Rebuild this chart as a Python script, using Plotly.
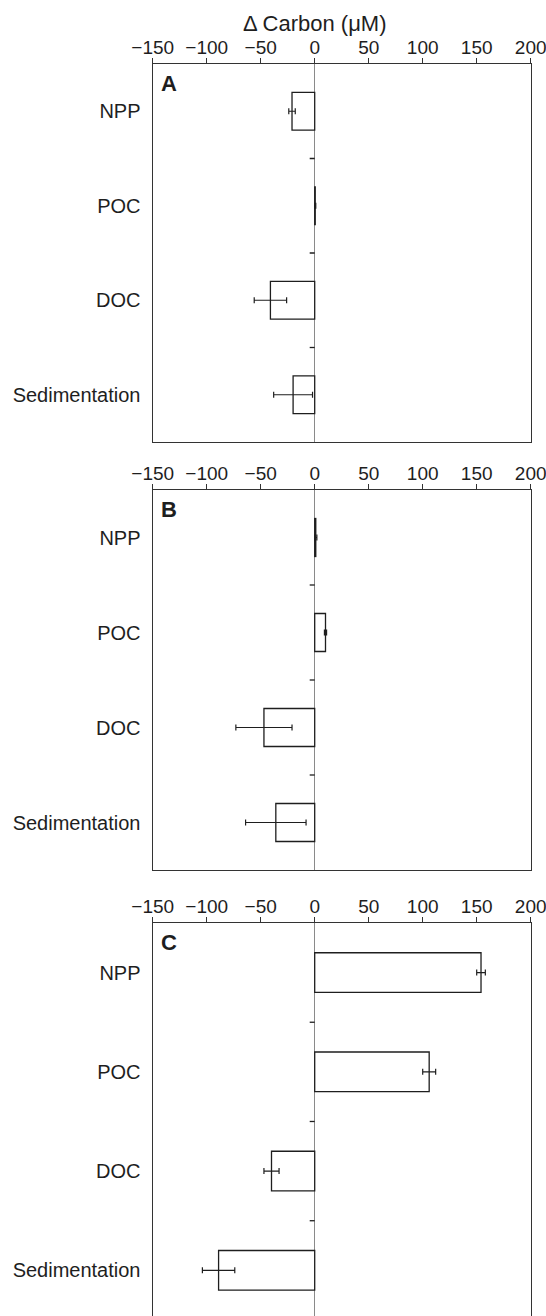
import plotly.graph_objects as go

categories = ["NPP", "POC", "DOC", "Sedimentation"]
panel_labels = ["A", "B", "C"]

values_A = [-21, 0.5, -41, -20]
errors_A = [3, 0.5, 15, 18]
values_B = [1, 10, -47, -36]
errors_B = [1, 1, 26, 28]
values_C = [154, 106, -40, -89]
errors_C = [4, 6, 7, 15]

x_tickvals = [-150, -100, -50, 0, 50, 100, 150, 200]
x_range = [-150, 200]
title_text = "Δ Carbon (μM)"

panels = [(values_A, errors_A), (values_B, errors_B), (values_C, errors_C)]

W, H = 546, 1316
FONT = "Liberation Sans, Arial, Helvetica, sans-serif"
AX = "#333333"
INK = "#1e1e1e"

x_dom = [152.7 / W, 530.7 / W]
y_px = [(64, 442), (490, 870), (923, 1316)]
y_ranges = [[3.5, -0.5], [3.5, -0.5], [3.46, -0.5]]

fig = go.Figure()
layout = dict(
    template="none",
    width=W, height=H,
    margin=dict(l=0, r=0, t=0, b=0, pad=0),
    paper_bgcolor="white", plot_bgcolor="white",
    showlegend=False,
    font=dict(family=FONT, color=INK, size=18),
)

shapes = []
annotations = []
for i, ((vals, errs), letter) in enumerate(zip(panels, panel_labels)):
    n = i + 1
    xa = "x" if n == 1 else f"x{n}"
    ya = "y" if n == 1 else f"y{n}"
    fig.add_trace(go.Bar(
        x=vals, y=categories, orientation="h",
        xaxis=xa, yaxis=ya, width=0.4,
        marker=dict(color="white", line=dict(color=INK, width=1.3)),
        error_x=dict(type="data", array=errs, visible=True,
                     color=INK, thickness=1.2, width=3),
        hoverinfo="skip",
    ))
    top, bot = y_px[i]
    dom = [1 - bot / H, 1 - top / H]
    layout[f"xaxis{'' if n == 1 else n}"] = dict(
        domain=x_dom, anchor=ya, side="top", range=x_range,
        tickvals=x_tickvals, ticks="outside", ticklen=5, tickwidth=1.2,
        tickcolor=AX, showline=True, linecolor=AX, linewidth=1.4,
        mirror=(n != 3), showgrid=False, automargin=False,
        ticklabeloverflow="allow", ticklabelstandoff=-4,
        zeroline=True, zerolinecolor="#8a8a8a", zerolinewidth=1.2,
        tickfont=dict(size=19, color=INK, family=FONT),
    )
    layout[f"yaxis{'' if n == 1 else n}"] = dict(
        domain=dom, anchor=xa, type="category", categoryorder="array",
        categoryarray=categories, range=y_ranges[i], automargin=False,
        showline=True, linecolor=AX, linewidth=1.4, mirror=True,
        ticks="", showgrid=False, zeroline=False,
        ticklabelstandoff=7,
        tickfont=dict(size=20, color=INK, family=FONT),
    )
    # short category-boundary ticks drawn on the zero line
    for k in range(len(categories) - 1):
        shapes.append(dict(
            type="line", xref=xa, yref=ya, xsizemode="pixel", xanchor=0,
            x0=-5, x1=0, y0=k + 0.5, y1=k + 0.5,
            line=dict(color=INK, width=1.3),
        ))
    annotations.append(dict(
        text=f"<b>{letter}</b>", xref=f"{xa} domain", yref=f"{ya} domain",
        x=0, y=1, xanchor="left", yanchor="top", xshift=6, yshift=-5,
        showarrow=False, font=dict(size=22, color=INK, family=FONT),
    ))

annotations.append(dict(
    text=title_text, xref="x", yref="paper", x=0, y=1 - 23 / H,
    xanchor="center", yanchor="middle", showarrow=False,
    font=dict(size=22, color=INK, family=FONT),
))

layout["shapes"] = shapes
layout["annotations"] = annotations
fig.update_layout(**layout)
fig.write_html(
    "out.html",
    config={"displayModeBar": False},
    post_script="document.body.style.margin='0';document.body.style.overflow='hidden';",
)
